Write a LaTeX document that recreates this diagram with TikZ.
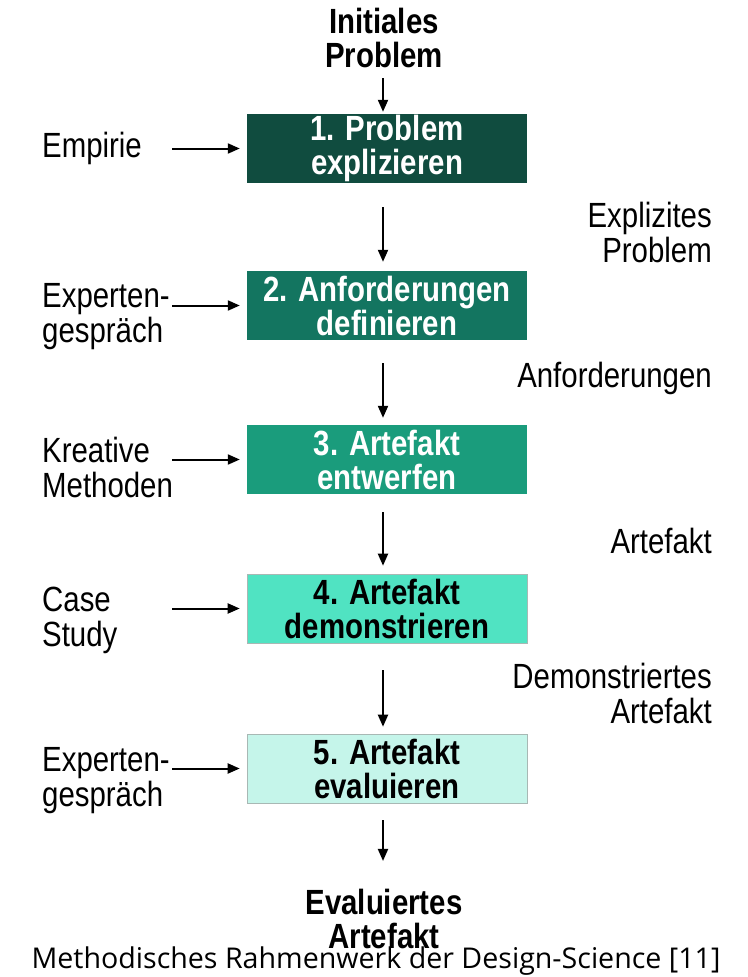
\documentclass[tikz,border=0pt]{standalone}
\usepackage{fontspec}
\setmainfont{Liberation Sans}
\newfontfamily\cond[FakeStretch=0.84]{Liberation Sans}
\newfontfamily\capfont{Open Sans}
\usetikzlibrary{arrows.meta}
\definecolor{cA}{HTML}{104C3F}
\definecolor{cB}{HTML}{137560}
\definecolor{cC}{HTML}{1A9C7C}
\definecolor{cD}{HTML}{50E3C2}
\definecolor{cE}{HTML}{C5F5EA}
\definecolor{bd}{HTML}{A8B8B4}
\begin{document}
\begin{tikzpicture}[x=1pt,y=-1pt,
  stepbox/.style={minimum width=280pt, minimum height=69pt, inner sep=0pt, align=center,
    font=\cond\bfseries\fontsize{35}{34}\selectfont},
  lbl/.style={inner sep=0pt, font=\cond\fontsize{35}{35}\selectfont},
  blbl/.style={inner sep=0pt, align=center, font=\cond\bfseries\fontsize{35}{34}\selectfont},
  arr/.style={line width=2pt, -{Triangle[length=12pt,width=10pt]}}]
\useasboundingbox[fill=white] (0,0) rectangle (747,977);

% boxes
\node[stepbox, fill=cA, text=white] (b1) at (387,148.5) {1. Problem\\explizieren};
\node[stepbox, fill=cB, text=white] (b2) at (387,305.5) {2. Anforderungen\\definieren};
\node[stepbox, fill=cC, text=white] (b3) at (387,459.5) {3. Artefakt\\entwerfen};
\node[stepbox, fill=cD, draw=bd, line width=0.6pt, text=black] (b4) at (387,608.5) {4. Artefakt\\demonstrieren};
\node[stepbox, fill=cE, draw=bd, line width=0.6pt, text=black] (b5) at (387,768.5) {5. Artefakt\\evaluieren};

% top / bottom
\node[blbl] (init) at (384,38) {Initiales\\Problem};
\node[blbl] (eval) at (384,919) {Evaluiertes\\Artefakt};

% left labels
\node[lbl, anchor=west, align=left] (l1) at (42,148) {Empirie};
\node[lbl, anchor=west, align=left] (l2) at (42,317) {Experten-\\gespräch};
\node[lbl, anchor=west, align=left] (l3) at (42,467) {Kreative\\Methoden};
\node[lbl, anchor=west, align=left] (l4) at (42,620) {Case\\Study};
\node[lbl, anchor=west, align=left] (l5) at (42,781) {Experten-\\gespräch};

% right labels
\node[lbl, anchor=east, align=right] (r1) at (712,232) {Explizites\\Problem};
\node[lbl, anchor=east, align=right] (r2) at (712,378) {Anforderungen};
\node[lbl, anchor=east, align=right] (r3) at (712,541) {Artefakt};
\node[lbl, anchor=east, align=right] (r4) at (712,693) {Demonstriertes\\Artefakt};

% caption
\node[inner sep=0pt, font=\capfont\fontsize{28.6}{29}\selectfont] (cap) at (376,961) {Methodisches Rahmenwerk der Design-Science [11]};

% free ends of the side arrows
\coordinate (s1) at (172,148.5);
\coordinate (s2) at (172,305.5);
\coordinate (s3) at (172,459.5);
\coordinate (s4) at (172,608.5);
\coordinate (s5) at (172,768.5);

% vertical arrows
\draw[arr, shorten <=10pt, shorten >=2pt] (init.south -| 383,0) -- ([xshift=-4pt]b1.north);
\draw[arr, shorten <=24pt, shorten >=9pt] ([xshift=-4pt]b1.south) -- ([xshift=-4pt]b2.north);
\draw[arr, shorten <=23pt, shorten >=7pt] ([xshift=-4pt]b2.south) -- ([xshift=-4pt]b3.north);
\draw[arr, shorten <=18pt, shorten >=8pt] ([xshift=-4pt]b3.south) -- ([xshift=-4pt]b4.north);
\draw[arr, shorten <=27pt, shorten >=7pt] ([xshift=-4pt]b4.south) -- ([xshift=-4pt]b5.north);
\draw[arr, shorten <=17pt, shorten >=28pt] ([xshift=-4pt]b5.south) -- (eval.north -| 383,0);

% side arrows
\draw[arr, shorten >=7pt] (s1) -- (b1.west);
\draw[arr, shorten >=7pt] (s2) -- (b2.west);
\draw[arr, shorten >=7pt] (s3) -- (b3.west);
\draw[arr, shorten >=7pt] (s4) -- (b4.west);
\draw[arr, shorten >=7pt] (s5) -- (b5.west);
\end{tikzpicture}
\end{document}
